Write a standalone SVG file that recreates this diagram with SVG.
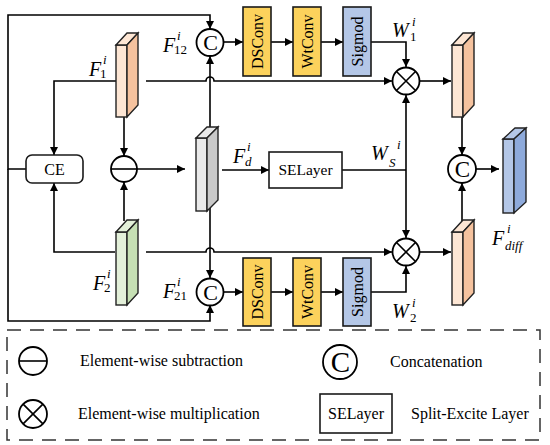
<svg xmlns="http://www.w3.org/2000/svg" width="550" height="445" viewBox="0 0 550 445">
<defs>
<marker id="ah" viewBox="0 0 10 10" refX="10" refY="5" markerWidth="9" markerHeight="8" markerUnits="userSpaceOnUse" orient="auto"><path d="M0,0 L10,5 L0,10 z" fill="#000"/></marker>
<style>
.ln{fill:none;stroke:#000;stroke-width:1.6}
.ar{fill:none;stroke:#000;stroke-width:1.6;marker-end:url(#ah)}
.bx{stroke:#1a1a1a;stroke-width:1.6}
.op{fill:#fff;stroke:#000;stroke-width:1.8}
.t{font-family:"Liberation Serif","DejaVu Serif",serif;fill:#000}
.m{font-family:"Liberation Serif","DejaVu Serif",serif;font-style:italic;fill:#000}
.edge{stroke:#222;stroke-width:1.4}
</style>
</defs>
<rect width="550" height="445" fill="#fff"/>

<g id="connectors">
<path class="ar" d="M26,169 H8 V15 H210 V29"/>
<path class="ar" d="M8,169 V321 H210 V305"/>
<path class="ar" d="M116,81 H54 V155"/>
<path class="ar" d="M146,81 H206 A4,4 0 0 1 214,81 H392"/>
<path class="ar" d="M124,117 V156"/>
<path class="ar" d="M124,221 V182"/>
<path class="ar" d="M115,252 H54 V183"/>
<path class="ar" d="M146,252 H206 A4,4 0 0 1 214,252 H392"/>
<path class="ar" d="M124,169 H185"/>
<path class="ar" d="M210,127 V56"/>
<path class="ar" d="M210,207 V278"/>
<path class="ar" d="M223,42 H243"/>
<path class="ar" d="M271,42 H293"/>
<path class="ar" d="M321,42 H343"/>
<path class="ar" d="M371,42 H406 V67"/>
<path class="ar" d="M223,292 H243"/>
<path class="ar" d="M271,292 H293"/>
<path class="ar" d="M321,292 H343"/>
<path class="ar" d="M371,292 H406 V266"/>
<path class="ar" d="M222,170 H269"/>
<path class="ln" d="M342,170 H406"/>
<path class="ar" d="M406,170 V95"/>
<path class="ar" d="M406,170 V238"/>
<path class="ar" d="M419,81 H451"/>
<path class="ar" d="M419,252 H451"/>
<path class="ar" d="M462,117 V155"/>
<path class="ar" d="M462,221 V183"/>
<path class="ar" d="M476,169 H499"/>
</g>

<g id="F1">
<rect x="116" y="45" width="11" height="72" fill="#fde6d4" class="edge"/>
<polygon points="116,45 127,33 138,33 127,45" fill="#fde6d4" class="edge"/>
<polygon points="127,45 138,33 138,105 127,117" fill="#f5c29e" class="edge"/>
<text class="m" x="89" y="76" font-size="20">F</text>
<text class="m" x="103" y="64" font-size="13">i</text>
<text class="t" x="100" y="78" font-size="13">1</text>
</g>

<g id="F2">
<rect x="116" y="232" width="11" height="73" fill="#e3f0d9" class="edge"/>
<polygon points="116,232 127,220 138,220 127,232" fill="#e3f0d9" class="edge"/>
<polygon points="127,232 138,220 138,293 127,305" fill="#c6e0b4" class="edge"/>
<text class="m" x="93" y="290" font-size="20">F</text>
<text class="m" x="107" y="278" font-size="13">i</text>
<text class="t" x="104" y="292" font-size="13">2</text>
</g>

<g id="CE">
<rect x="26" y="155" width="57" height="28" rx="6" fill="#fff" class="bx"/>
<text class="t" x="54.5" y="174.5" font-size="16" text-anchor="middle">CE</text>
</g>

<g id="sub">
<circle cx="124" cy="169" r="13" class="op"/>
<line x1="111" y1="169" x2="137" y2="169" stroke="#000" stroke-width="1.6"/>
</g>

<g id="Fd">
<rect x="196" y="138" width="11" height="73" fill="#e9e9e9" class="edge"/>
<polygon points="196,138 207,127 218,127 207,138" fill="#e9e9e9" class="edge"/>
<polygon points="207,138 218,127 218,200 207,211" fill="#c9c9c9" class="edge"/>
<text class="m" x="233" y="163" font-size="20">F</text>
<text class="m" x="247" y="151" font-size="13">i</text>
<text class="m" x="245" y="166" font-size="13">d</text>
</g>

<g id="C12">
<circle cx="210" cy="42.5" r="13.5" class="op"/>
<text class="t" x="210.5" y="50" font-size="22" text-anchor="middle">C</text>
<text class="m" x="163" y="52" font-size="20">F</text>
<text class="m" x="177" y="40" font-size="13">i</text>
<text class="t" x="174" y="54" font-size="13">12</text>
</g>

<g id="C21">
<circle cx="210" cy="292" r="13.5" class="op"/>
<text class="t" x="210.5" y="299.5" font-size="22" text-anchor="middle">C</text>
<text class="m" x="163" y="298" font-size="20">F</text>
<text class="m" x="177" y="286" font-size="13">i</text>
<text class="t" x="174" y="300" font-size="13">21</text>
</g>

<g id="DSConv1">
<rect x="243" y="7" width="28" height="69" fill="#fcd25c" class="bx"/>
<text class="t" transform="translate(262.5,41.5) rotate(-90)" font-size="16" text-anchor="middle">DSConv</text>
</g>
<g id="WtConv1">
<rect x="293" y="7" width="28" height="69" fill="#fcd25c" class="bx"/>
<text class="t" transform="translate(312.5,41.5) rotate(-90)" font-size="16" text-anchor="middle">WtConv</text>
</g>
<g id="Sigmod1">
<rect x="343" y="7" width="28" height="69" fill="#b4c7e7" class="bx"/>
<text class="t" transform="translate(362.5,41.5) rotate(-90)" font-size="16" text-anchor="middle">Sigmod</text>
</g>

<g id="DSConv2">
<rect x="243" y="258" width="28" height="68" fill="#fcd25c" class="bx"/>
<text class="t" transform="translate(262.5,292) rotate(-90)" font-size="16" text-anchor="middle">DSConv</text>
</g>
<g id="WtConv2">
<rect x="293" y="258" width="28" height="68" fill="#fcd25c" class="bx"/>
<text class="t" transform="translate(312.5,292) rotate(-90)" font-size="16" text-anchor="middle">WtConv</text>
</g>
<g id="Sigmod2">
<rect x="343" y="258" width="28" height="68" fill="#b4c7e7" class="bx"/>
<text class="t" transform="translate(362.5,292) rotate(-90)" font-size="16" text-anchor="middle">Sigmod</text>
</g>

<g id="SELayer">
<rect x="269" y="152" width="73" height="36" fill="#fff" class="bx"/>
<text class="t" x="305.5" y="175" font-size="15.5" text-anchor="middle">SELayer</text>
<text class="m" x="371" y="160" font-size="20">W</text>
<text class="m" x="397" y="149" font-size="13">i</text>
<text class="m" x="389" y="167" font-size="13">S</text>
</g>

<g id="mul1">
<circle cx="406" cy="81" r="13.5" class="op"/>
<path class="ln" d="M396.5,71.5 L415.5,90.5 M415.5,71.5 L396.5,90.5"/>
<text class="m" x="392" y="37" font-size="20">W</text>
<text class="m" x="412" y="26" font-size="13">i</text>
<text class="t" x="410" y="41" font-size="13">1</text>
</g>

<g id="mul2">
<circle cx="406" cy="252" r="13.5" class="op"/>
<path class="ln" d="M396.5,242.5 L415.5,261.5 M415.5,242.5 L396.5,261.5"/>
<text class="m" x="392" y="318" font-size="20">W</text>
<text class="m" x="412" y="307" font-size="13">i</text>
<text class="t" x="410" y="322" font-size="13">2</text>
</g>

<g id="O1">
<rect x="452" y="45" width="11" height="72" fill="#fde6d4" class="edge"/>
<polygon points="452,45 463,33 474,33 463,45" fill="#fde6d4" class="edge"/>
<polygon points="463,45 474,33 474,105 463,117" fill="#f5c29e" class="edge"/>
</g>

<g id="O2">
<rect x="452" y="232" width="11" height="73" fill="#fde6d4" class="edge"/>
<polygon points="452,232 463,220 474,220 463,232" fill="#fde6d4" class="edge"/>
<polygon points="463,232 474,220 474,293 463,305" fill="#f5c29e" class="edge"/>
</g>

<g id="Cfinal">
<circle cx="462" cy="169" r="14" class="op"/>
<text class="t" x="462.5" y="177" font-size="23" text-anchor="middle">C</text>
</g>

<g id="Fdiff">
<rect x="503" y="139" width="11" height="74" fill="#b4c7e7" class="edge"/>
<polygon points="503,139 515,128 526,128 514,139" fill="#b4c7e7" class="edge"/>
<polygon points="514,139 526,128 526,202 514,213" fill="#8eaadb" class="edge"/>
<text class="m" x="492" y="245" font-size="20">F</text>
<text class="m" x="507" y="233" font-size="13">i</text>
<text class="m" x="505" y="250" font-size="13">diff</text>
</g>

<g id="legend">
<rect x="7" y="330" width="533" height="110" fill="none" stroke="#333" stroke-width="1.5" stroke-dasharray="14 9"/>
<circle cx="33" cy="361" r="14" class="op"/>
<line x1="19" y1="361" x2="47" y2="361" stroke="#000" stroke-width="1.6"/>
<text class="t" x="80" y="366" font-size="16">Element-wise subtraction</text>
<circle cx="33" cy="414" r="14" class="op"/>
<path class="ln" d="M23.1,404.1 L42.9,423.9 M42.9,404.1 L23.1,423.9"/>
<text class="t" x="78" y="419" font-size="16">Element-wise multiplication</text>
<circle cx="340" cy="362" r="17" class="op"/>
<text class="t" x="340.5" y="372" font-size="29" text-anchor="middle">C</text>
<text class="t" x="390" y="367" font-size="16">Concatenation</text>
<rect x="320" y="394" width="72" height="39" fill="#fff" class="bx"/>
<text class="t" x="356" y="419" font-size="16" text-anchor="middle">SELayer</text>
<text class="t" x="411" y="419" font-size="16">Split-Excite Layer</text>
</g>
</svg>
